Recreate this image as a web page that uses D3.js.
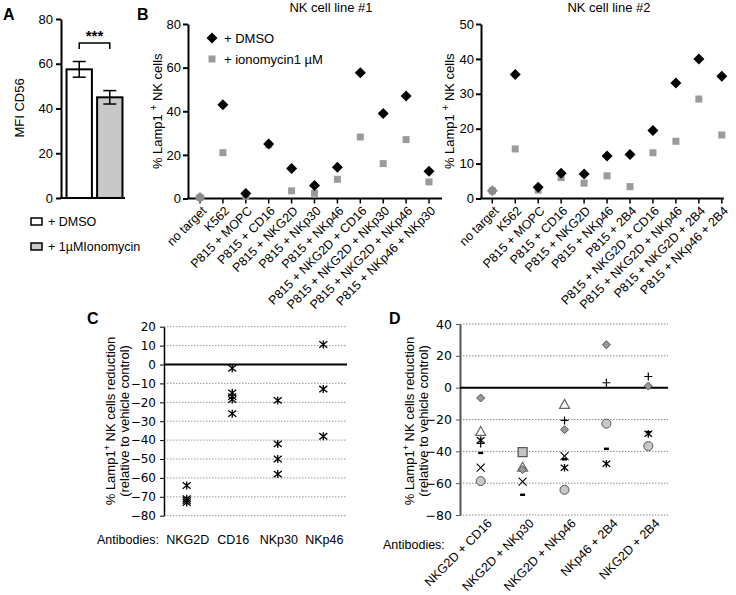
<!DOCTYPE html>
<html><head><meta charset="utf-8">
<script src="https://cdn.jsdelivr.net/npm/d3@7"></script>
<style>body{margin:0;background:#fff}svg{display:block;font-family:"Liberation Sans",Arial,sans-serif}</style>
</head><body>
<svg id="c" width="736" height="595"></svg>
<script>
// ---------- DATA ----------
// Panel A
const aGroups = ["+ DMSO", "+ 1µMIonomycin"];
const aMeans = [57.5, 45];
const aErrors = [3.5, 3];
const aTicks = [0, 20, 40, 60, 80];

// Panel B left (NK cell line #1)
const b1Categories = ["no target","K562","P815 + MOPC","P815 + CD16","P815 + NKG2D","P815 + NKp30","P815 + NKp46","P815 + NKG2D + CD16","P815 + NKG2D + NKp30","P815 + NKG2D + NKp46","P815 + NKp46 + NKp30"];
const b1Dmso = [0.5, 43, 2.3, 25, 13.7, 6, 14.3, 57.6, 39, 47, 12.5];
const b1Iono = [0.5, 21, 1, 24.6, 3.5, 2.4, 8.8, 28.2, 16, 27, 7.6];
const b1Ticks = [0, 20, 40, 60, 80];

// Panel B right (NK cell line #2)
const b2Categories = ["no target","K562","P815 + MOPC","P815 + CD16","P815 + NKG2D","P815 + NKp46","P815 + 2B4","P815 + NKG2D + CD16","P815 + NKG2D + NKp46","P815 + NKG2D + 2B4","P815 + NKp46 + 2B4"];
const b2Dmso = [2.2, 35.5, 3.2, 7.2, 7, 12.2, 12.6, 19.5, 33.1, 40, 35];
const b2Iono = [2.2, 14.2, 2.4, 6, 4.4, 6.5, 3.4, 13.1, 16.4, 28.5, 18.2];
const b2Ticks = [0, 10, 20, 30, 40, 50];

// Panel C
const cCategories = ["NKG2D", "CD16", "NKp30", "NKp46"];
const cValues = [
  [-64, -71, -72, -73],
  [-2, -15, -17, -18.5, -26],
  [-19, -42, -50, -58],
  [10.6, -13, -38]
];
const cTicks = [20, 10, 0, -10, -20, -30, -40, -50, -60, -70, -80];

// Panel D
const dCategories = ["NKG2D + CD16", "NKG2D + NKp30", "NKG2D + NKp46", "NKp46 + 2B4", "NKG2D + 2B4"];
const dDiamond  = [-6.5, -51.5, -26.4, 27, 1];
const dTriangle = [-27.5, -50, -10.5, null, null];
const dAsterisk = [-33, null, -50.3, -47.8, -29];
const dPlus     = [-35, null, -20.6, 3.1, 7];
const dDash     = [-41, -67.3, -45, -38.4, -28];
const dCross    = [-50.3, -59, -43, null, null];
const dCircle   = [-58.7, null, -64.2, -22.6, -36.7];
const dSquare   = [null, -40.5, null, null, null];
const dTicks = [40, 20, 0, -20, -40, -60, -80];

// ---------- DRAW ----------
const svg = d3.select("#c");
svg.append("rect").attr("width",736).attr("height",595).attr("fill","#fff");

function panelLabel(t,x,y){
  svg.append("text").attr("x",x).attr("y",y).attr("font-size",16).attr("font-weight","bold").text(t);
}
panelLabel("A",3,20); panelLabel("B",137,20); panelLabel("C",87,324); panelLabel("D",389,324);

// ---- Panel A ----
{
  const g = svg.append("g");
  const y = d3.scaleLinear().domain([0,80]).range([198,19]);
  const x = d3.scaleBand().domain(aGroups).range([65,124]).paddingInner(0.17).paddingOuter(0.05);
  const ax = g.append("g").attr("transform","translate(61,0)").call(d3.axisLeft(y).tickValues(aTicks).tickSize(5).tickSizeOuter(0));
  ax.select(".domain").attr("stroke-width",2);
  ax.selectAll(".tick line").attr("stroke-width",2);
  ax.selectAll("text").attr("font-size",13).attr("font-family","Liberation Sans, Arial");
  g.append("line").attr("x1",60).attr("x2",125).attr("y1",198).attr("y2",198).attr("stroke","#000").attr("stroke-width",2);
  const fills = ["#fff","#c8c8c8"];
  aGroups.forEach((k,i)=>{
    g.append("rect").attr("x",x(k)).attr("width",x.bandwidth()).attr("y",y(aMeans[i])).attr("height",y(0)-y(aMeans[i]))
      .attr("fill",fills[i]).attr("stroke","#000").attr("stroke-width",2);
    const cx = x(k)+x.bandwidth()/2;
    g.append("line").attr("x1",cx).attr("x2",cx).attr("y1",y(aMeans[i]+aErrors[i])).attr("y2",y(aMeans[i]-aErrors[i])).attr("stroke","#000").attr("stroke-width",1.5);
    [aMeans[i]+aErrors[i], aMeans[i]-aErrors[i]].forEach(v=>{
      g.append("line").attr("x1",cx-6.5).attr("x2",cx+6.5).attr("y1",y(v)).attr("y2",y(v)).attr("stroke","#000").attr("stroke-width",1.5);
    });
  });
  const c1 = x(aGroups[0])+x.bandwidth()/2, c2 = x(aGroups[1])+x.bandwidth()/2;
  g.append("path").attr("d",`M${c1},49V43H${c2}V49`).attr("fill","none").attr("stroke","#000").attr("stroke-width",1.5);
  g.append("text").attr("x",(c1+c2)/2).attr("y",41).attr("text-anchor","middle").attr("font-size",15).attr("font-weight","bold").text("***");
  g.append("text").attr("transform","translate(24,108) rotate(-90)").attr("text-anchor","middle").attr("font-size",13).text("MFI CD56");
  // legend
  aGroups.forEach((k,i)=>{
    const yy = 218 + i*25;
    g.append("rect").attr("x",31).attr("y",yy).attr("width",11).attr("height",7).attr("fill",fills[i]).attr("stroke","#000").attr("stroke-width",1.5);
    g.append("text").attr("x",48).attr("y",yy+8).attr("font-size",12.5).text(k);
  });
}

// ---- Panel B ----
function diamond(sel,s){ return sel.append("path").attr("d",`M0,${-s}L${s},0L0,${s}L${-s},0Z`); }
function panelB(cats,dmso,iono,ticks,ymax,xAxis,xStart,xEnd,yTop,title,titleX,ylabX,extra){
  const g = svg.append("g");
  const y = d3.scaleLinear().domain([0,ymax]).range([198.5,yTop]);
  const x = d3.scalePoint().domain(cats).range([xStart,xEnd]);
  const ax = g.append("g").attr("transform",`translate(${xAxis},0)`).call(d3.axisLeft(y).tickValues(ticks).tickSize(5).tickSizeOuter(0));
  ax.select(".domain").attr("stroke-width",2);
  ax.selectAll(".tick line").attr("stroke-width",2);
  ax.selectAll("text").attr("font-size",13).attr("dx",1);
  g.append("line").attr("x1",xAxis-1).attr("x2",xEnd+extra).attr("y1",y(0)).attr("y2",y(0)).attr("stroke","#000").attr("stroke-width",2);
  cats.forEach(c=>{
    g.append("line").attr("x1",x(c)).attr("x2",x(c)).attr("y1",y(0)).attr("y2",y(0)+5).attr("stroke","#000").attr("stroke-width",1.5);
    g.append("text").attr("transform",`translate(${x(c)+4},${y(0)+10}) rotate(-45)`).attr("text-anchor","end").attr("font-size",12.5).attr("dy","0.35em").text(c);
  });
  cats.forEach((c,i)=>{
    g.append("rect").attr("x",x(c)-3.5).attr("y",y(iono[i])-3.5).attr("width",7).attr("height",7).attr("fill","#9b9b9b");
  });
  cats.forEach((c,i)=>{
    diamond(g,5.5).attr("transform",`translate(${x(c)},${y(dmso[i])})`).attr("fill",i===0?"#8a8a8a":"#000");
  });
  g.append("text").attr("x",titleX).attr("y",12).attr("text-anchor","middle").attr("font-size",13).text(title);
  const yl = g.append("text").attr("transform",`translate(${ylabX},${y(ymax/2)}) rotate(-90)`).attr("text-anchor","middle").attr("font-size",13);
  yl.append("tspan").text("% Lamp1 ");
  yl.append("tspan").attr("baseline-shift","super").attr("font-size",10).text("+");
  yl.append("tspan").text("  NK cells");
  return {g,x,y};
}
const bl = panelB(b1Categories,b1Dmso,b1Iono,b1Ticks,80,188,200,429,24,"NK cell line #1",331,162,13);
// legend B left
diamond(bl.g,5.5).attr("transform","translate(212,38)").attr("fill","#000");
bl.g.append("text").attr("x",224).attr("y",43).attr("font-size",13).text("+ DMSO");
bl.g.append("rect").attr("x",208.5).attr("y",55.5).attr("width",7).attr("height",7).attr("fill","#9b9b9b");
bl.g.append("text").attr("x",224).attr("y",64).attr("font-size",13).text("+ ionomycin1 µM");
panelB(b2Categories,b2Dmso,b2Iono,b2Ticks,50,481,492.3,721.8,24,"NK cell line #2",609,454,2);

// ---- reduction panels helpers ----
function ylab2(g,x1,x2,yc){
  const t1 = g.append("text").attr("transform",`translate(${x1},${yc}) rotate(-90)`).attr("text-anchor","middle").attr("font-size",13);
  t1.append("tspan").text("% Lamp1");
  t1.append("tspan").attr("baseline-shift","super").attr("font-size",9).text("+");
  t1.append("tspan").text(" NK cells reduction");
  g.append("text").attr("transform",`translate(${x2},${yc}) rotate(-90)`).attr("text-anchor","middle").attr("font-size",13).text("(relative to vehicle control)");
}
function starPath(s){ return `M${-s},${-s*0.8}L${s},${s*0.8}M${-s},${s*0.8}L${s},${-s*0.8}M0,${-s}L0,${s}`; }

// ---- Panel C ----
{
  const g = svg.append("g");
  const y = d3.scaleLinear().domain([20,-80]).range([326.7,515.7]);
  const x = d3.scalePoint().domain(cCategories).range([186.7,323.3]);
  cTicks.forEach(t=>{
    if(t!==0) g.append("line").attr("x1",164).attr("x2",347).attr("y1",y(t)).attr("y2",y(t)).attr("stroke","#999").attr("stroke-dasharray","1.5,1.5");
  });
  const ax = g.append("g").attr("transform","translate(164,0)").call(d3.axisLeft(y).tickValues(cTicks).tickSize(4).tickSizeOuter(0));
  ax.select(".domain").attr("stroke-width",1.5);
  ax.selectAll("text").attr("font-size",12).attr("font-family","DejaVu Sans, Verdana").attr("dx",-1);
  g.append("line").attr("x1",164).attr("x2",347).attr("y1",y(0)).attr("y2",y(0)).attr("stroke","#000").attr("stroke-width",2);
  cCategories.forEach((c,i)=>{
    cValues[i].forEach(v=>{
      g.append("path").attr("d",starPath(4)).attr("transform",`translate(${x(c)},${y(v)})`).attr("stroke","#000").attr("stroke-width",1.3).attr("fill","none");
    });
    g.append("text").attr("x",x(c)+1).attr("y",544).attr("text-anchor","middle").attr("font-size",12.5).text(c);
  });
  g.append("text").attr("x",97).attr("y",544).attr("font-size",12.5).attr("textLength",62).text("Antibodies:");
  ylab2(g,115,129,421);
}

// ---- Panel D ----
{
  const g = svg.append("g");
  const y = d3.scaleLinear().domain([40,-80]).range([324,515]);
  const x = d3.scalePoint().domain(dCategories).range([480.7,648.3]);
  dTicks.forEach(t=>{
    if(t!==0) g.append("line").attr("x1",460).attr("x2",668).attr("y1",y(t)).attr("y2",y(t)).attr("stroke","#888").attr("stroke-dasharray","1.5,1.5");
  });
  const ax = g.append("g").attr("transform","translate(460,0)").call(d3.axisLeft(y).tickValues(dTicks).tickSize(4).tickSizeOuter(0));
  ax.select(".domain").attr("stroke-width",2).attr("stroke","#555");
  ax.selectAll(".tick line").attr("stroke","#555");
  ax.selectAll("text").attr("font-size",12.5).attr("font-family","DejaVu Sans, Verdana").attr("dx",-1);
  g.append("line").attr("x1",460).attr("x2",668).attr("y1",y(0)).attr("y2",y(0)).attr("stroke","#000").attr("stroke-width",2);
  const P = (arr,draw)=>arr.forEach((v,i)=>{ if(v!==null){ draw(g).attr("transform",`translate(${x(dCategories[i])},${y(v)})`); } });
  P(dTriangle, gg=>gg.append("path").attr("d","M0,-5L5,4L-5,4Z").attr("fill","#fff").attr("stroke","#666").attr("stroke-width",1.2));
  P(dDiamond, gg=>gg.append("path").attr("d","M0,-4L4,0L0,4L-4,0Z").attr("fill","#999").attr("stroke","#555").attr("stroke-width",1));
  P(dCircle, gg=>gg.append("circle").attr("r",4.5).attr("fill","#c8c8c8").attr("stroke","#555").attr("stroke-width",1));
  P(dSquare, gg=>gg.append("rect").attr("x",-4.5).attr("y",-4.5).attr("width",9).attr("height",9).attr("fill","#c4c4c4").attr("stroke","#555").attr("stroke-width",1.2));
  P(dAsterisk, gg=>gg.append("path").attr("d",starPath(3.8)).attr("fill","none").attr("stroke","#000").attr("stroke-width",1.3));
  P(dPlus, gg=>gg.append("path").attr("d","M-4,0L4,0M0,-4L0,4").attr("fill","none").attr("stroke","#000").attr("stroke-width",1.2));
  P(dDash, gg=>gg.append("rect").attr("x",-2.5).attr("y",-1.2).attr("width",5).attr("height",2.4).attr("fill","#000"));
  P(dCross, gg=>gg.append("path").attr("d","M-4,-4L4,4M-4,4L4,-4").attr("fill","none").attr("stroke","#000").attr("stroke-width",1.1));
  dCategories.forEach(c=>{
    g.append("text").attr("transform",`translate(${x(c)+9},${521}) rotate(-45)`).attr("text-anchor","end").attr("font-size",12.5).attr("dy","0.35em").text(c);
  });
  g.append("text").attr("x",383).attr("y",549).attr("font-size",12.5).text("Antibodies:");
  ylab2(g,414,428,421);
}
</script>
</body></html>
